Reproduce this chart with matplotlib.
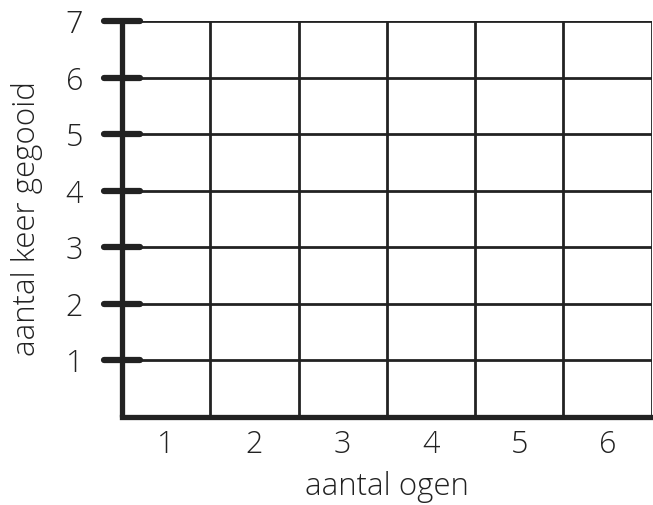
import numpy as np
import matplotlib.pyplot as plt

# Categorieën en as-instellingen
ogen = [1, 2, 3, 4, 5, 6]
y_ticks = [1, 2, 3, 4, 5, 6, 7]
x_label = 'aantal ogen'
y_label = 'aantal keer gegooid'

ink = '#222222'
plt.rcParams['font.family'] = ['Open Sans', 'DejaVu Sans']
plt.rcParams['font.weight'] = 'light'
plt.rcParams['axes.labelweight'] = 'light'

fig = plt.figure(figsize=(6.53, 5.05), dpi=100)
ax = fig.add_axes([0.1868, 0.1743, 0.8112, 0.7841])

ax.set_xlim(ogen[0] - 0.5, ogen[-1] + 0.5)
ax.set_ylim(0, y_ticks[-1])

# raster
for xb in np.arange(ogen[0] - 0.5, ogen[-1] + 1):
    ax.axvline(xb, color=ink, lw=2.0, zorder=1)
for yb in y_ticks:
    ax.axhline(yb, color=ink, lw=2.0, zorder=1)

# dikke assen
ax.plot([0.5, 0.5], [0, y_ticks[-1]], color=ink, lw=3.8, zorder=3,
        solid_capstyle='butt', clip_on=False)
ax.plot([0.5, 6.5], [0, 0], color=ink, lw=3.8, zorder=3,
        solid_capstyle='projecting', clip_on=False)

# tick-streepjes over de y-as
for yb in y_ticks:
    ax.plot([0.5 - 0.2, 0.5 + 0.2], [yb, yb], color=ink, lw=4.5,
            solid_capstyle='round', zorder=4, clip_on=False)

for s in ax.spines.values():
    s.set_visible(False)

ax.set_xticks(ogen)
ax.set_xticklabels([str(v) for v in ogen])
ax.set_yticks(y_ticks)
ax.set_yticklabels([str(v) for v in y_ticks])
ax.tick_params(length=0, labelsize=22, colors=ink)
ax.tick_params(axis='x', pad=9)
ax.tick_params(axis='y', pad=28)

ax.set_xlabel(x_label, fontsize=22.5, color=ink, labelpad=7)
ax.set_ylabel(y_label, fontsize=22.5, color=ink, labelpad=16)

fig.savefig('out.png', dpi=100)
